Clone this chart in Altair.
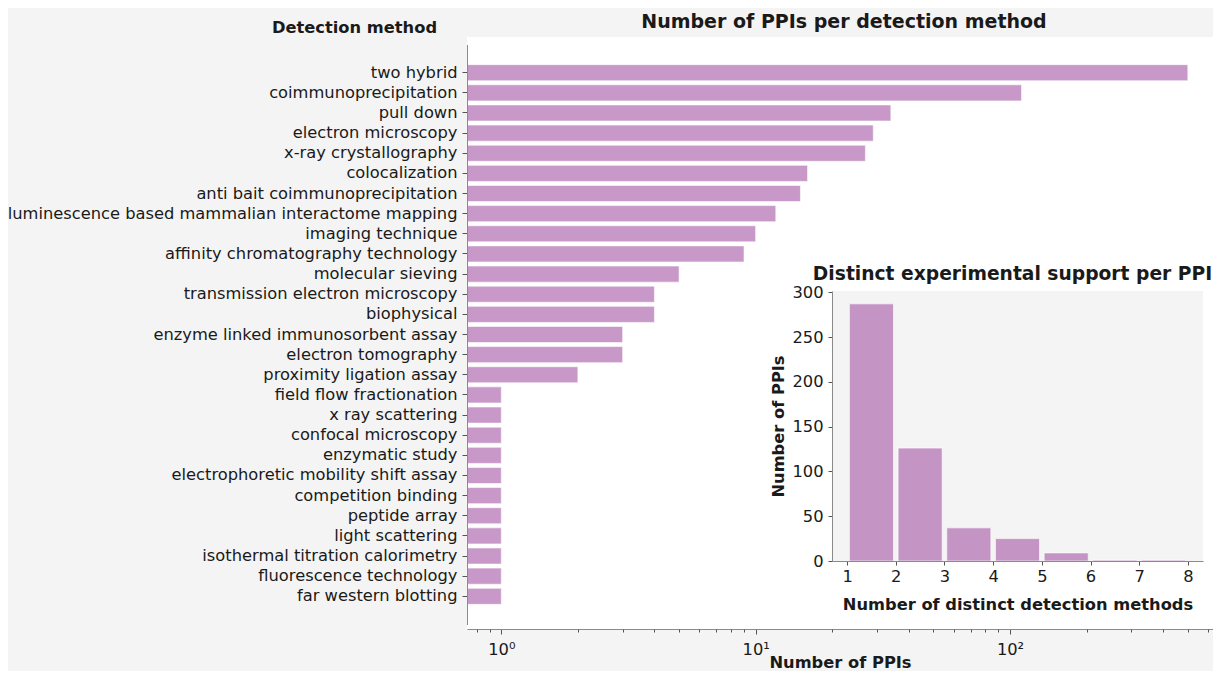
import altair as alt
import pandas as pd

# ---------------- data ----------------
methods = [
    "two hybrid", "coimmunoprecipitation", "pull down", "electron microscopy",
    "x-ray crystallography", "colocalization", "anti bait coimmunoprecipitation",
    "luminescence based mammalian interactome mapping", "imaging technique",
    "affinity chromatography technology", "molecular sieving",
    "transmission electron microscopy", "biophysical",
    "enzyme linked immunosorbent assay", "electron tomography",
    "proximity ligation assay", "field flow fractionation", "x ray scattering",
    "confocal microscopy", "enzymatic study",
    "electrophoretic mobility shift assay", "competition binding",
    "peptide array", "light scattering", "isothermal titration calorimetry",
    "fluorescence technology", "far western blotting",
]
ppi_counts = [500, 111, 34, 29, 27, 16, 15, 12, 10, 9, 5, 4, 4, 3, 3, 2,
              1, 1, 1, 1, 1, 1, 1, 1, 1, 1, 1]

major_ticks = [1, 10, 100]
major_labels = ["10⁰", "10¹", "10²"]
minor_ticks = [0.8, 0.9, 2, 3, 4, 5, 6, 7, 8, 9, 20, 30, 40, 50, 60, 70, 80, 90,
               200, 300, 400, 500, 600]

bin_start = [1, 2, 3, 4, 5, 6, 7]
bin_end = [2, 3, 4, 5, 6, 7, 8]
hist_counts = [287, 126, 37, 25, 9, 1, 1]
inset_x_ticks = [1, 2, 3, 4, 5, 6, 7, 8]
inset_y_ticks = [0, 50, 100, 150, 200, 250, 300]

MAIN_TITLE = "Number of PPIs per detection method"
INSET_TITLE = "Distinct experimental support per PPI"

# ---------------- styling ----------------
FONT = "DejaVu Sans"
TXT = "#1a1a1a"
BAR_MAIN = "#c899c8"
BAR_INSET = "#c494c4"
BG = "#f4f4f4"
FS = 16.3
TFS = 19

X_DOMAIN = [0.733, 628]
IX_DOMAIN = [0.69, 8.31]
IY_DOMAIN = [0, 301.35]

main_df = pd.DataFrame({"method": methods, "ppis": ppi_counts})
hist_df = pd.DataFrame({"start": bin_start, "end": bin_end, "count": hist_counts})
bg_df = pd.DataFrame({
    "x0": [IX_DOMAIN[0]], "x1": [IX_DOMAIN[1]],
    "y0": [IY_DOMAIN[0]], "y1": [IY_DOMAIN[1]],
    "xm": [(IX_DOMAIN[0] + IX_DOMAIN[1]) / 2], "label": [INSET_TITLE],
})

label_expr = " : ".join(
    f"datum.value == {v} ? '{l}'" for v, l in zip(major_ticks, major_labels)
) + " : ''"

common_axis = dict(
    labelFont=FONT, labelFontSize=FS, labelColor=TXT,
    titleFont=FONT, titleFontSize=FS, titleFontWeight="bold", titleColor=TXT,
    domainColor="#8a8a8a", tickColor="#555555", grid=False, zindex=1,
)

x_scale = alt.Scale(type="log", domain=X_DOMAIN, nice=False)

main = alt.Chart(main_df).mark_bar(
    color=BAR_MAIN, stroke="white", strokeWidth=1, strokeOpacity=0.6
).encode(
    x=alt.X("ppis:Q", scale=x_scale,
            axis=alt.Axis(orient="bottom", values=major_ticks, labelExpr=label_expr,
                          tickSize=5, labelPadding=7, title="Number of PPIs",
                          titleY=33, titleBaseline="middle", **common_axis)),
    x2=alt.datum(X_DOMAIN[0]),
    y=alt.Y("method:N", sort=methods,
            scale=alt.Scale(paddingInner=0.2, paddingOuter=1, range=[7.5, 587.5]),
            axis=alt.Axis(orient="left", tickSize=5, labelPadding=5, labelLimit=0,
                          title="Detection method", titleAngle=0, titleX=-113,
                          titleY=-10, titleAlign="center", titleBaseline="middle",
                          **common_axis)),
)

minor = alt.Chart(main_df).mark_point(opacity=0).encode(
    x=alt.X("ppis:Q", scale=x_scale,
            axis=alt.Axis(orient="bottom", values=minor_ticks, labels=False,
                          tickSize=3, domain=False, title=None, grid=False,
                          tickColor="#555555", zindex=1)),
)

ix = alt.Scale(domain=IX_DOMAIN, range=[365, 736], nice=False, zero=False)
iy = alt.Scale(domain=IY_DOMAIN, range=[524, 254], nice=False, zero=False)
ix_axis = alt.Axis(orient="bottom", offset=-68, values=inset_x_ticks, tickSize=4,
                   labelPadding=3, title="Number of distinct detection methods",
                   titleY=43, titleBaseline="middle", **common_axis)
iy_axis = alt.Axis(orient="left", offset=-365, values=inset_y_ticks, tickSize=4,
                   labelPadding=5, title="Number of PPIs", titleX=-54,
                   titleBaseline="middle", **common_axis)

inset_bg = alt.Chart(bg_df).mark_rect(color=BG).encode(
    x=alt.X("x0:Q", scale=ix, axis=ix_axis), x2="x1",
    y=alt.Y("y0:Q", scale=iy, axis=iy_axis), y2="y1",
)
inset_bars = alt.Chart(hist_df).mark_rect(
    color=BAR_INSET, xOffset=2.3, x2Offset=-2.3, stroke="white",
    strokeWidth=0.8, strokeOpacity=0.8
).encode(
    x=alt.X("start:Q", scale=ix, axis=ix_axis), x2="end",
    y=alt.Y("count:Q", scale=iy, axis=iy_axis), y2=alt.datum(0),
)
inset_title = alt.Chart(bg_df).mark_text(
    font=FONT, fontSize=18.7, fontWeight="bold", color=TXT, dy=-17, dx=-5,
    baseline="middle", align="center"
).encode(
    x=alt.X("xm:Q", scale=ix, axis=ix_axis),
    y=alt.Y("y1:Q", scale=iy, axis=iy_axis),
    text="label:N",
)
inset = alt.layer(inset_bg, inset_bars, inset_title)

chart = alt.layer(main, minor, inset).resolve_scale(
    x="independent", y="independent"
).properties(
    width=746, height=592,
    autosize=alt.AutoSizeParams(type="none"),
    padding={"left": 459, "top": 29, "right": 0, "bottom": 42},
    background=BG,
    title=alt.TitleParams(MAIN_TITLE, font=FONT, fontSize=TFS, fontWeight="bold",
                          color=TXT, anchor="middle", baseline="alphabetic",
                          offset=-28, frame="group", dx=4),
).configure_view(fill="white", stroke=None)

chart.save("out.html", embed_options={"renderer": "svg", "actions": False})
